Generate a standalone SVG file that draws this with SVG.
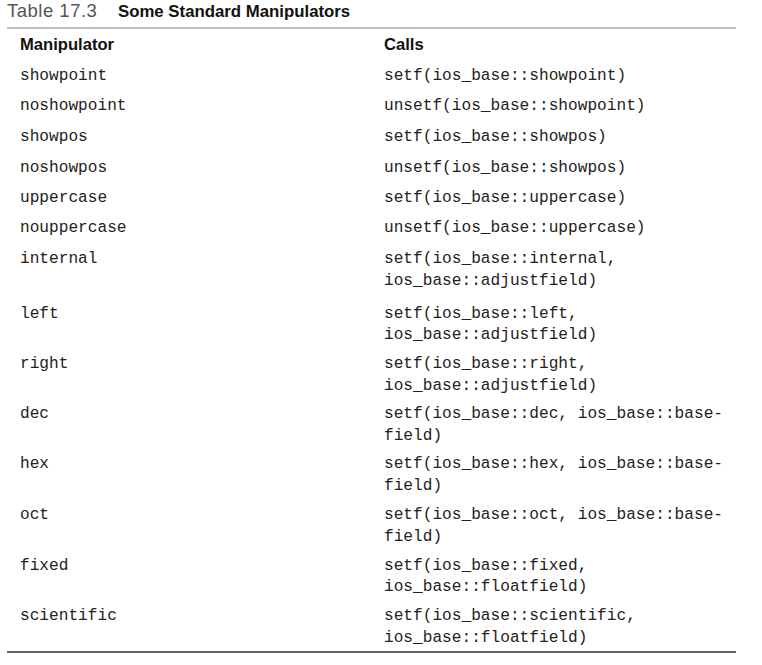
<svg xmlns="http://www.w3.org/2000/svg" width="762" height="665" viewBox="0 0 762 665">
<style>
.cap{font-family:"Liberation Sans",Arial,sans-serif;font-size:18.5px;letter-spacing:0.5px;fill:#555}
.capb{font-family:"Liberation Sans",Arial,sans-serif;font-size:16.8px;font-weight:bold;fill:#111}
.hd{font-family:"Liberation Sans",Arial,sans-serif;font-size:16.6px;font-weight:bold;fill:#111}
.m{font-family:"Liberation Mono","Courier New",monospace;font-size:16.15px;fill:#222}
</style>
<rect width="762" height="665" fill="#fff"/>
<g id="caption">
<text class="cap" x="7" y="17">Table 17.3</text>
<text class="capb" x="118" y="17">Some Standard Manipulators</text>
</g>
<g id="rules">
<line x1="7" y1="28" x2="736" y2="28" stroke="#bdbdbd" stroke-width="2"/>
<line x1="7" y1="652" x2="736" y2="652" stroke="#333" stroke-width="1.5"/>
</g>
<g id="header">
<text class="hd" x="20" y="50">Manipulator</text>
<text class="hd" x="384" y="50">Calls</text>
</g>
<g id="rows">
<g id="r1"><text class="m" x="20" y="80">showpoint</text><text class="m" x="384" y="80">setf(ios_base::showpoint)</text></g>
<g id="r2"><text class="m" x="20" y="110">noshowpoint</text><text class="m" x="384" y="110">unsetf(ios_base::showpoint)</text></g>
<g id="r3"><text class="m" x="20" y="141">showpos</text><text class="m" x="384" y="141">setf(ios_base::showpos)</text></g>
<g id="r4"><text class="m" x="20" y="172">noshowpos</text><text class="m" x="384" y="172">unsetf(ios_base::showpos)</text></g>
<g id="r5"><text class="m" x="20" y="202">uppercase</text><text class="m" x="384" y="202">setf(ios_base::uppercase)</text></g>
<g id="r6"><text class="m" x="20" y="232">nouppercase</text><text class="m" x="384" y="232">unsetf(ios_base::uppercase)</text></g>
<g id="r7"><text class="m" x="20" y="263">internal</text><text class="m" x="384" y="263">setf(ios_base::internal,</text><text class="m" x="384" y="285">ios_base::adjustfield)</text></g>
<g id="r8"><text class="m" x="20" y="318">left</text><text class="m" x="384" y="318">setf(ios_base::left,</text><text class="m" x="384" y="339">ios_base::adjustfield)</text></g>
<g id="r9"><text class="m" x="20" y="368">right</text><text class="m" x="384" y="368">setf(ios_base::right,</text><text class="m" x="384" y="390">ios_base::adjustfield)</text></g>
<g id="r10"><text class="m" x="20" y="418">dec</text><text class="m" x="384" y="418">setf(ios_base::dec, ios_base::base-</text><text class="m" x="384" y="440">field)</text></g>
<g id="r11"><text class="m" x="20" y="468">hex</text><text class="m" x="384" y="468">setf(ios_base::hex, ios_base::base-</text><text class="m" x="384" y="490">field)</text></g>
<g id="r12"><text class="m" x="20" y="519">oct</text><text class="m" x="384" y="519">setf(ios_base::oct, ios_base::base-</text><text class="m" x="384" y="541">field)</text></g>
<g id="r13"><text class="m" x="20" y="570">fixed</text><text class="m" x="384" y="570">setf(ios_base::fixed,</text><text class="m" x="384" y="591">ios_base::floatfield)</text></g>
<g id="r14"><text class="m" x="20" y="620">scientific</text><text class="m" x="384" y="620">setf(ios_base::scientific,</text><text class="m" x="384" y="642">ios_base::floatfield)</text></g>
</g>
</svg>
